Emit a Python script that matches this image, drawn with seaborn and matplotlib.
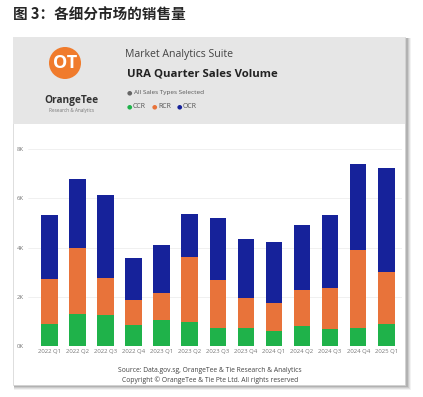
import numpy as np
import pandas as pd
import matplotlib
matplotlib.use("Agg")
import matplotlib.pyplot as plt
from matplotlib.patches import Rectangle, Circle
import seaborn as sns

# data (thousand units)
quarters = ['2022 Q1', '2022 Q2', '2022 Q3', '2022 Q4', '2023 Q1', '2023 Q2', '2023 Q3',
            '2023 Q4', '2024 Q1', '2024 Q2', '2024 Q3', '2024 Q4', '2025 Q1']
ccr = [0.89, 1.31, 1.26, 0.86, 1.07, 0.97, 0.74, 0.72, 0.60, 0.80, 0.70, 0.74, 0.89]
rcr = [1.83, 2.65, 1.51, 1.02, 1.09, 2.63, 1.95, 1.23, 1.14, 1.47, 1.65, 3.17, 2.12]
ocr = [2.59, 2.83, 3.36, 1.69, 1.94, 1.77, 2.49, 2.38, 2.47, 2.63, 2.99, 3.50, 4.22]
ytick_vals = [0, 2000, 4000, 6000, 8000]
ytick_labels = ['0K', '2K', '4K', '6K', '8K']

col_ccr = '#1fb24a'
col_rcr = '#e8733a'
col_ocr = '#16229a'

df = pd.DataFrame({'quarter': quarters, 'CCR': ccr, 'RCR': rcr, 'OCR': ocr})
df['l_ccr'] = df['CCR'] * 1000
df['l_rcr'] = (df['CCR'] + df['RCR']) * 1000
df['l_ocr'] = (df['CCR'] + df['RCR'] + df['OCR']) * 1000

sns.set_theme(style="white")
plt.rcParams['font.family'] = ['Open Sans', 'DejaVu Sans']

W, H = 423, 397
fig = plt.figure(figsize=(W / 100, H / 100), dpi=100)
fig.patch.set_facecolor('white')


def fx(px):
    return px / W


def fy(py):
    return 1 - py / H


# card shadow + card + header band
for i, a in enumerate([0.05, 0.07, 0.09, 0.12]):
    d = 4 - i
    fig.patches.append(Rectangle((fx(13 + 1), fy(386 + d)), fx(393 + d), (348 + d) / H,
                                 transform=fig.transFigure, facecolor='black',
                                 alpha=a, edgecolor='none', zorder=0))
fig.patches.append(Rectangle((fx(13), fy(385)), fx(392), 348 / H, transform=fig.transFigure,
                             facecolor='white', edgecolor='#d0d0d0', lw=0.5, zorder=1))
fig.patches.append(Rectangle((fx(13), fy(124)), fx(392), 87 / H, transform=fig.transFigure,
                             facecolor='#e6e6e6', edgecolor='none', zorder=2))

# page title
fig.text(fx(13), fy(15), '图 3：各细分市场的销售量', fontsize=10.5, fontweight='bold',
         va='center', ha='left', family=['Noto Sans CJK SC', 'DejaVu Sans'], zorder=5)

# logo
logo = fig.add_axes([fx(40), fy(116), fx(62), 76 / H], zorder=5)
logo.patch.set_alpha(0)
logo.set_xlim(0, 62)
logo.set_ylim(76, 0)
logo.axis('off')
logo.add_patch(Circle((25, 23), 16, facecolor='#f07b2c', edgecolor='none'))
logo.text(25, 23.5, 'OT', color='white', fontsize=13, fontweight='bold',
          ha='center', va='center', family='Open Sans')
logo.text(31.5, 60, 'OrangeTee', fontsize=7.3, fontweight='bold', color='#333333',
          ha='center', va='center', family='Open Sans')
logo.text(31.5, 70.5, 'Research & Analytics', fontsize=3.3, color='#777777',
          ha='center', va='center', family='Open Sans')

# header texts
fig.text(fx(125), fy(55), 'Market Analytics Suite', fontsize=7.6, color='#444444',
         va='center', ha='left', zorder=5)
fig.text(fx(127), fy(73.5), 'URA Quarter Sales Volume', fontsize=8.2, fontweight='bold',
         color='#222222', va='center', ha='left', zorder=5)
fig.text(fx(127), fy(92.5), '\u25cf', fontsize=4.5, color='#666666', va='center', ha='left')
fig.text(fx(134), fy(92.5), 'All Sales Types Selected', fontsize=4.6, color='#555555',
         va='center', ha='left')
lx = 127
for lab, c in [('CCR', col_ccr), ('RCR', col_rcr), ('OCR', col_ocr)]:
    fig.text(fx(lx), fy(106.5), '\u25cf', fontsize=4.5, color=c, va='center', ha='left')
    fig.text(fx(lx + 6), fy(106.5), lab, fontsize=5, color='#555555', va='center', ha='left')
    lx += 25

# bar chart
ax = fig.add_axes([fx(28), fy(346), fx(374), (346 - 149) / H], zorder=3)
ax.patch.set_alpha(0)
for col, c in [('l_ocr', col_ocr), ('l_rcr', col_rcr), ('l_ccr', col_ccr)]:
    sns.barplot(data=df, x='quarter', y=col, color=c, width=0.59, saturation=1,
                edgecolor='none', linewidth=0, ax=ax)
ax.set_xlim(-0.76, 12.56)
ax.set_ylim(0, 8000)
ax.set_yticks(ytick_vals)
ax.set_yticklabels(ytick_labels)
ax.set_xlabel('')
ax.set_ylabel('')
ax.grid(axis='y', color='#eeeeee', linewidth=0.6)
ax.set_axisbelow(True)
for s in ax.spines.values():
    s.set_visible(False)
ax.tick_params(axis='both', length=0, labelsize=4.3, labelcolor='#777777')
ax.tick_params(axis='x', pad=2.5)
ax.tick_params(axis='y', pad=3)

# footer
fig.text(fx(210), fy(370.5), 'Source: Data.gov.sg, OrangeTee & Tie Research & Analytics',
         fontsize=4.9, color='#444444', ha='center', va='center')
fig.text(fx(210), fy(380), 'Copyright \u00a9 OrangeTee & Tie Pte Ltd. All rights reserved',
         fontsize=4.9, color='#444444', ha='center', va='center')

fig.savefig('out.png', dpi=100)
